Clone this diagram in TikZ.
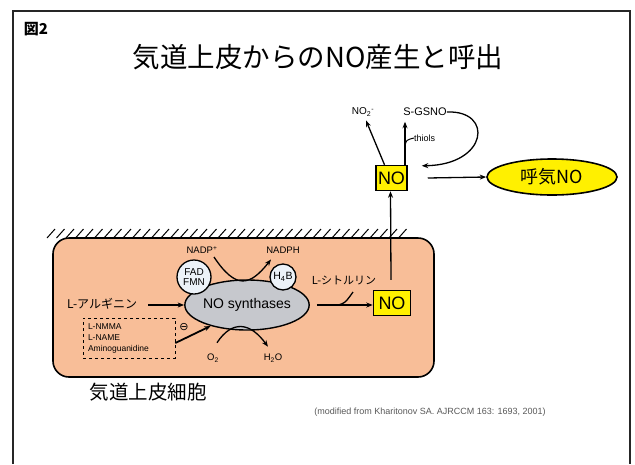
\documentclass[tikz,border=0pt]{standalone}
\usepackage{fontspec}
\setmainfont{Liberation Sans}
\newfontfamily\jp{Noto Sans CJK JP}
\newfontfamily\dejavu{DejaVu Sans}
\usetikzlibrary{arrows.meta,shapes.geometric,calc}
\definecolor{peach}{RGB}{248,190,152}
\definecolor{nogray}{RGB}{198,200,205}
\definecolor{noyellow}{RGB}{255,240,0}
\definecolor{cofill}{RGB}{236,242,248}
\begin{document}
\begin{tikzpicture}[x=1pt,y=-1pt,
  arr/.style={-{Stealth[length=6.5pt,width=5pt]}, line width=1.3pt},
  lbl/.style={inner sep=0pt, font=\fontsize{9.5}{10}\selectfont},
  nobox/.style={draw, line width=1.5pt, fill=noyellow, inner sep=0pt, font=\fontsize{18}{18}\selectfont},
  cof/.style={circle, draw, line width=1.3pt, fill=cofill, inner sep=0pt}]
\fill[white] (0,0) rectangle (635,464);
\useasboundingbox (0,0) rectangle (635,464);
\draw[line width=1.6pt, black!85] (13,464) -- (13,11) -- (630,11) -- (630,464);

\node[font=\jp\bfseries\fontsize{15}{15}\selectfont] (fig) at (36,29) {図2};
\node[font=\jp\fontsize{27.5}{28}\selectfont] (title) at (318,57) {気道上皮からのNO産生と呼出};

% hatching
\foreach \x in {47,56.5,...,400} \draw[line width=1pt] (\x,238) -- (\x+8,229);

% cell
\node[draw, rounded corners=16pt, line width=1.6pt, fill=peach, minimum width=381pt, minimum height=139pt] (cell) at (243.5,307.5) {};

% NO synthases
\node[ellipse, draw, fill=nogray, line width=1.4pt, minimum width=122pt, minimum height=50pt, inner sep=0pt, font=\fontsize{14}{14}\selectfont] (nos) at (247,305) {NO synthases};
\node[cof, minimum size=34pt, font=\fontsize{10}{10}\selectfont, align=center] (fad) at (194,277) {FAD\\FMN};
\node[cof, minimum size=26pt, font=\fontsize{10.5}{10.5}\selectfont] (hb) at (283,277) {H\textsubscript{4}B};

\node[lbl] (nadp) at (202,250) {NADP\textsuperscript{+}};
\node[lbl] (nadph) at (283,250) {NADPH};
\draw[arr] ($(nadp.south)+(12,3)$) .. controls (236,290) and (250,286) .. ($(nadph.south)+(-12,6)$);

\node[lbl] (o2) at (213,358) {O\textsubscript{2}};
\node[lbl] (h2o) at (273,358) {H\textsubscript{2}O};
\draw[arr] ($(o2.north)+(4,-11)$) .. controls (232,320) and (250,322) .. ($(h2o.north)+(-5,-7)$);

% L-arginine
\node[inner sep=0pt, font=\jp\fontsize{12}{12}\selectfont, anchor=west] (arg) at (67,304) {L-アルギニン};
\coordinate (argend) at (148,305);
\draw[arr] (argend) -- (nos.west);

% inhibitors
\node[draw, dashed, line width=0.7pt, align=left, font=\fontsize{8.5}{11}\selectfont, minimum width=92pt, minimum height=40pt, text width=82pt, inner sep=3pt] (inh) at (129,338) {L-NMMA\\L-NAME\\Aminoguanidine};
\node[inner sep=0pt, font=\dejavu\fontsize{11}{11}\selectfont] (minus) at (184,327) {⊖};
\draw[arr, line width=1.8pt] ($(inh.east)+(0,5)$) -- (nos.210);

% citrulline + NO in cell
\node[inner sep=0pt, font=\jp\fontsize{11}{11}\selectfont] (cit) at (344,280) {L-シトルリン};
\node[nobox, minimum width=37pt, minimum height=25pt] (no1) at (392,303) {NO};
\draw[arr] ($(nos.east)+(7,0)$) -- (no1.west |- nos.east);
\coordinate (br0) at (336,305);
\coordinate (br1) at (353,292);
\draw[line width=1.3pt] (br0) .. controls (346,305) and (349,297) .. (br1);

% upper NO
\node[nobox, minimum width=31pt, minimum height=25pt] (no2) at (391.5,178) {NO};
\draw[arr] ($(no1.north)+(-1,-10)$) -- (no2.south -| 390.5,0);

\node[lbl, font=\fontsize{10}{10}\selectfont] (no2m) at (363,112) {NO\textsubscript{2}\textsuperscript{-}};
\node[lbl, font=\fontsize{11}{11}\selectfont] (gsno) at (425,112) {S-GSNO};
\draw[arr] ($(no2.north)+(-7,0)$) -- ($(no2m.south)+(3,4)$);
\draw[arr] ($(no2.north)+(13.5,0)$) -- ($(no2.north)+(13.5,-43)$);
\node[inner sep=0pt, font=\fontsize{9}{9}\selectfont, anchor=west] (thiols) at (414,138) {thiols};
\draw[line width=1pt] (405,147) .. controls (406,140) .. (thiols.west);
\draw[arr] (gsno.east) .. controls (494,110) and (488,165) .. ($(no2.north east)+(14,1)$);

% exhaled NO
\node[ellipse, draw, line width=1.6pt, fill=noyellow, minimum width=130pt, minimum height=36pt, inner sep=0pt, font=\jp\fontsize{18}{18}\selectfont] (exh) at (552,177) {呼気NO};
\draw[arr] ($(no2.east)+(20,0)$) -- (exh.west);

\node[font=\jp\fontsize{19.5}{20}\selectfont] (celllbl) at (148,392) {気道上皮細胞};
\node[font=\fontsize{9}{9}\selectfont, text=black!65] (cite) at (430,412) {(modified from Kharitonov SA. AJRCCM 163: 1693, 2001)};
\end{tikzpicture}
\end{document}
